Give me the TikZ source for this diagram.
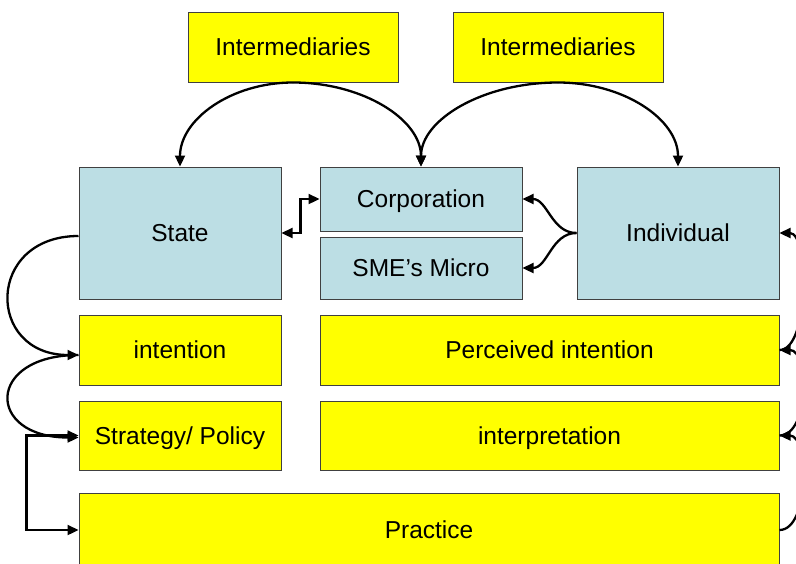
\documentclass[tikz,border=0pt]{standalone}
\usepackage{fontspec}
\setmainfont{Liberation Sans}
\usetikzlibrary{arrows.meta,calc}
\definecolor{boxblue}{RGB}{188,222,228}
\definecolor{boxyellow}{RGB}{255,255,0}
\begin{document}
\begin{tikzpicture}[x=1pt,y=-1pt,
  >={Triangle[length=11pt,width=10pt]},
  box/.style={draw=black!75, line width=1pt, inner sep=0pt, text height=17.5pt, text depth=0pt, font=\fontsize{24.5}{29}\selectfont},
  ybox/.style={box, fill=boxyellow},
  bbox/.style={box, fill=boxblue},
  conn/.style={line width=2.3pt, ->},
  dconn/.style={line width=2.3pt, <->}]
\useasboundingbox (0,0) rectangle (796,563);
\clip (0,0) rectangle (796,563);
% boxes
\node[ybox, minimum width=210pt, minimum height=70pt] (int1) at (293,47) {Intermediaries};
\node[ybox, minimum width=210pt, minimum height=70pt] (int2) at (558,47) {Intermediaries};
\node[bbox, minimum width=202pt, minimum height=132pt] (state) at (180,233) {State};
\node[bbox, minimum width=202pt, minimum height=64pt] (corp) at (421,199) {Corporation};
\node[bbox, minimum width=202pt, minimum height=62pt] (sme) at (421,268) {SME’s Micro};
\node[bbox, minimum width=202pt, minimum height=132pt] (indiv) at (678,233) {Individual};
\node[ybox, minimum width=202pt, minimum height=70pt] (intention) at (180,350) {intention};
\node[ybox, minimum width=459pt, minimum height=70pt] (perceived) at (549.5,350) {Perceived intention};
\node[ybox, minimum width=202pt, minimum height=69pt] (strategy) at (180,435.5) {Strategy/ Policy};
\node[ybox, minimum width=459pt, minimum height=69pt] (interp) at (549.5,435.5) {interpretation};
\node[ybox, minimum width=700pt, minimum height=74pt] (practice) at (429,530) {Practice};
% top arcs
\draw[conn] (int1.south) .. controls +(-62,0) and +(0,-47) .. (state.north);
\draw[conn] (int1.south) .. controls +(70,0) and +(0,-47) .. (corp.north);
\draw[conn] (int2.south) .. controls +(-75,0) and +(0,-47) .. (corp.north);
\draw[conn] (int2.south) .. controls +(66,0) and +(0,-47) .. (indiv.north);
% middle connectors
\draw[dconn] (corp.west) -- ++(-19,0) |- (state.east);
\draw[conn] (indiv.west) to[out=180,in=0] (corp.east);
\draw[conn] (indiv.west) to[out=180,in=0] (sme.east);
% left side
\draw[conn] ($(state.west)+(0,3)$) .. controls +(-93,0) and +(-93,0) .. ($(intention.west)+(0,5)$);
\draw[conn] ($(intention.west)+(0,5)$) .. controls +(-93,0) and +(-93,0) .. ($(strategy.west)+(0,2)$);
\draw[dconn] (strategy.west) -- ++(-52,0) |- (practice.west);
% right side
\draw[conn] (practice.east) .. controls +(30,0) and +(30,0) .. (interp.east);
\draw[conn] (interp.east) .. controls +(30,0) and +(30,0) .. (perceived.east);
\draw[conn] (perceived.east) .. controls +(30,0) and +(30,0) .. (indiv.east);
\end{tikzpicture}
\end{document}
